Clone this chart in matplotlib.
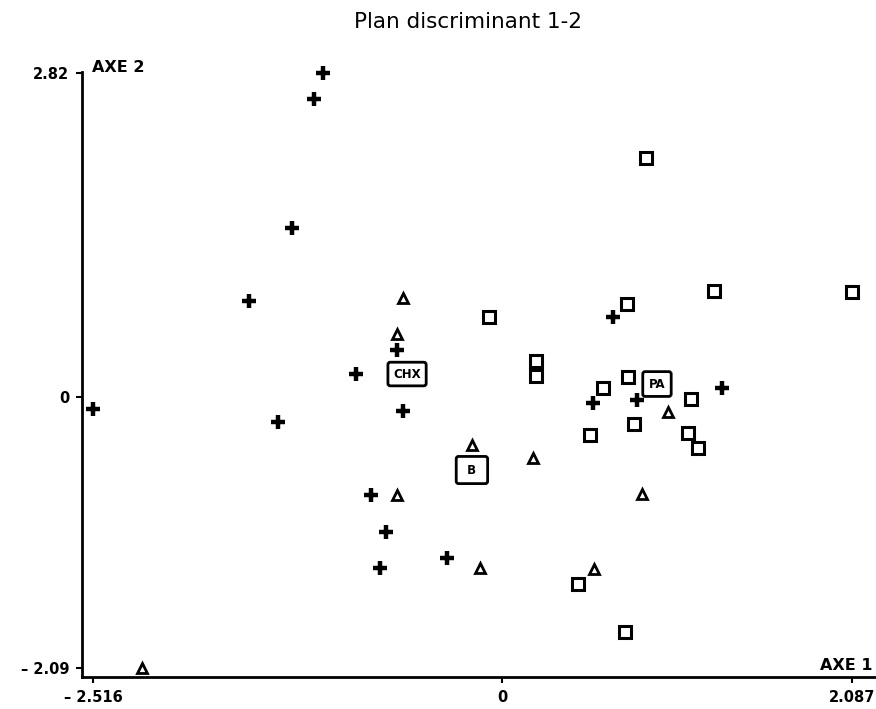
import numpy as np
import matplotlib
matplotlib.use("Agg")
import matplotlib.pyplot as plt

plt.rcParams['font.family'] = ['DejaVu Sans']

# ---- data (discriminant scores, axis 1 / axis 2) ----
chx_x = [-1.101, -1.156, -1.292, -1.556, -0.646, -0.898, -2.516, -0.609, -1.378,
         -0.806, -0.713, -0.750, -0.338, 0.662, 0.543, 0.805, 1.312]
chx_y = [2.820, 2.594, 1.471, 0.836, 0.409, 0.200, -0.093, -0.108, -0.193,
         -0.756, -1.041, -1.318, -1.241, 0.696, -0.046, -0.023, 0.078]

b_x = [-0.609, -0.646, 0.990, -0.185, 0.185, -0.646, 0.835, -0.135, 0.549, -2.214]
b_y = [0.862, 0.548, -0.116, -0.370, -0.470, -0.756, -0.748, -1.318, -1.326, -2.090]

pa_x = [0.859, -0.080, 0.745, 1.264, 2.087, 0.203, 0.203, 0.751, 0.602, 1.127,
        0.787, 0.525, 1.109, 1.169, 0.453, 0.733]
pa_y = [2.080, 0.696, 0.809, 0.923, 0.914, 0.313, 0.183, 0.174, 0.078, -0.015,
        -0.208, -0.293, -0.278, -0.393, -1.442, -1.812]

centroid_labels = ["CHX", "B", "PA"]
centroid_x = [-0.584, -0.185, 0.924]
centroid_y = [0.200, -0.563, 0.113]

x_ticks = [-2.516, 0, 2.087]
x_ticklabels = ["– 2.516", "0", "2.087"]
y_ticks = [2.82, 0, -2.09]
y_ticklabels = ["2.82", "0", "– 2.09"]

# ---- figure ----
W, H = 876, 709
fig = plt.figure(figsize=(W / 100, H / 100), dpi=100)
left, right, top, bottom = 82, 876, 72, 677
ax = fig.add_axes([left / W, (H - bottom) / H, (right - left) / W, (bottom - top) / H])

# slightly different stretch on each side of the origin (as in the printed plot)
def fx(v):
    v = np.asarray(v, dtype=float)
    return np.where(v < 0, v * 162.6, v * 167.7)
def ifx(u):
    u = np.asarray(u, dtype=float)
    return np.where(u < 0, u / 162.6, u / 167.7)
def fy(v):
    v = np.asarray(v, dtype=float)
    return np.where(v < 0, v * 129.7, v * 114.9)
def ify(u):
    u = np.asarray(u, dtype=float)
    return np.where(u < 0, u / 129.7, u / 114.9)

ax.set_xscale('function', functions=(fx, ifx))
ax.set_yscale('function', functions=(fy, ify))
ax.set_xlim(-2.583, 2.230)
ax.set_ylim(-2.159, 2.829)

ax.plot(chx_x, chx_y, linestyle='none', marker='+', ms=10, mew=3.2, color='black', clip_on=False)
ax.plot(b_x, b_y, linestyle='none', marker='^', ms=7, mew=2, mfc='none', mec='black', clip_on=False)
ax.plot(pa_x, pa_y, linestyle='none', marker='s', ms=8, mew=2.2, mfc='none', mec='black', clip_on=False)

pads = {"CHX": 0.45, "B": 0.6, "PA": 0.5}
texts = {"CHX": "CHX", "B": " B ", "PA": "PA"}
for lab, cx, cy in zip(centroid_labels, centroid_x, centroid_y):
    ax.text(cx, cy, texts[lab], ha='center', va='center', fontsize=8.5, fontweight='bold',
            bbox=dict(boxstyle=f'round,pad={pads[lab]},rounding_size=0.2', fc='white',
                      ec='black', lw=2), zorder=5)

for s in ['top', 'right']:
    ax.spines[s].set_visible(False)
for s in ['left', 'bottom']:
    ax.spines[s].set_linewidth(2)

ax.set_xticks(x_ticks)
ax.set_xticklabels(x_ticklabels)
ax.set_yticks(y_ticks)
ax.set_yticklabels(y_ticklabels)
ax.minorticks_off()
ax.tick_params(axis='both', length=4, width=1.5, labelsize=10.5, pad=5)
for t in ax.get_xticklabels() + ax.get_yticklabels():
    t.set_fontweight('bold')

fig.text(92 / W, 1 - 68 / H, "AXE 2", ha='left', va='center', fontsize=11.5, fontweight='bold')
fig.text(873 / W, 1 - 665 / H, "AXE 1", ha='right', va='center', fontsize=11.5, fontweight='bold')
fig.text(468 / W, 1 - 22 / H, "Plan discriminant 1-2", ha='center', va='center', fontsize=15.5)

fig.savefig("out.png", dpi=100)
